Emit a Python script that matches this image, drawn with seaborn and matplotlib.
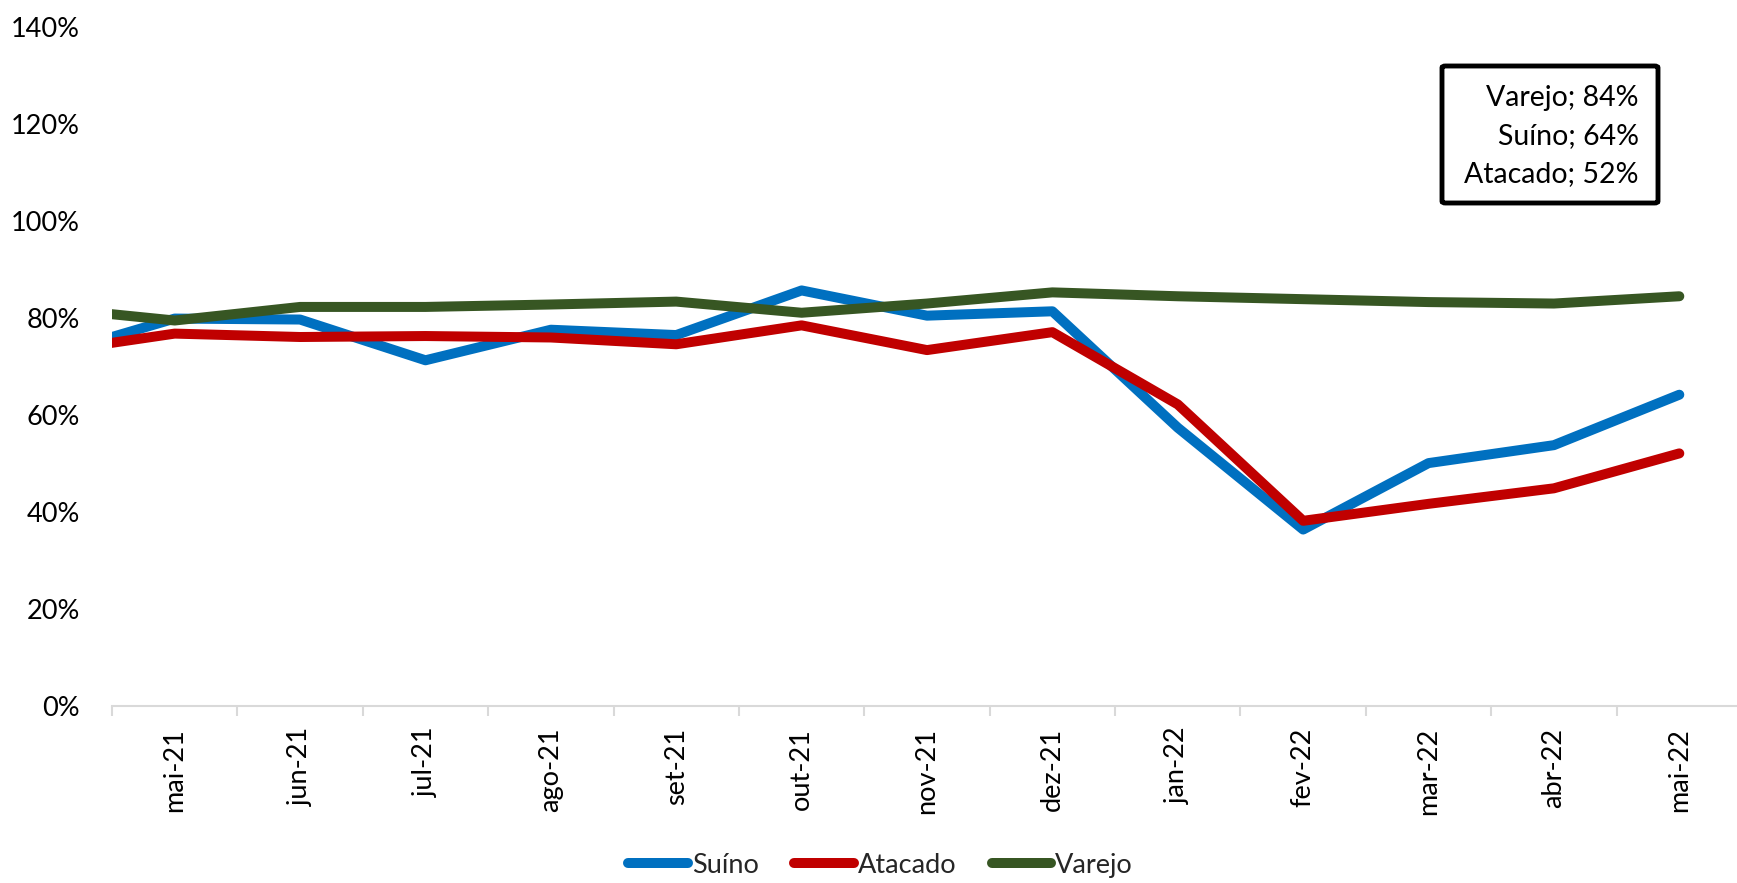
import matplotlib
matplotlib.use("Agg")
import matplotlib.pyplot as plt
import seaborn as sns
import pandas as pd
import numpy as np
from matplotlib.patches import FancyBboxPatch

months = ['abr-21', 'mai-21', 'jun-21', 'jul-21', 'ago-21', 'set-21', 'out-21',
          'nov-21', 'dez-21', 'jan-22', 'fev-22', 'mar-22', 'abr-22', 'mai-22']
suino = [72.2, 79.8, 79.6, 71.2, 77.5, 76.4, 85.6, 80.4, 81.3, 57.3, 36.3, 50.0, 53.7, 64.1]
atacado = [72.9, 76.7, 76.0, 76.2, 75.9, 74.5, 78.4, 73.3, 77.0, 62.1, 38.1, 41.6, 44.8, 52.0]
varejo = [82.0, 79.4, 82.2, 82.2, 82.7, 83.3, 81.0, 82.9, 85.2, 84.4, 83.8, 83.2, 82.9, 84.4]
series_names = ['Suíno', 'Atacado', 'Varejo']
colors = ['#0070C0', '#C00000', '#375623']
yticks = [0, 20, 40, 60, 80, 100, 120, 140]
box_lines = ['Varejo; 84%', 'Suíno; 64%', 'Atacado; 52%']

pos = np.arange(len(months)) - 1  # abr-21 sits before the visible range
df = pd.concat([
    pd.DataFrame({'x': pos, 'valor': vals, 'serie': name})
    for name, vals in zip(series_names, [suino, atacado, varejo])
])

sns.set_theme(style='white')
plt.rcParams['font.family'] = ['Lato', 'DejaVu Sans']
FS = 19.5

fig = plt.figure(figsize=(17.37, 8.83), dpi=100)
ax = fig.add_axes([112 / 1737, 1 - 705.6 / 883, 1630 / 1737, (705.6 - 26.6) / 883])

sns.lineplot(data=df, x='x', y='valor', hue='serie', hue_order=series_names,
             palette=colors, linewidth=7.2, ax=ax, legend=False,
             solid_capstyle='round', solid_joinstyle='round')

ax.set_xlim(-0.5, 12.5)
ax.set_ylim(0, 140)
ax.set_xlabel('')
ax.set_ylabel('')

for s in ['top', 'right', 'left']:
    ax.spines[s].set_visible(False)
ax.spines['bottom'].set_color('#D9D9D9')
ax.spines['bottom'].set_linewidth(1.5)

ax.set_yticks(yticks)
ax.set_yticklabels([f'{v}%' for v in yticks], fontsize=FS, color='black')
ax.tick_params(axis='y', length=0, pad=23)

ax.set_xticks(np.arange(0, 13))
ax.set_xticklabels(months[1:], rotation=90, fontsize=FS, color='black')
ax.set_xticks(np.arange(-0.5, 12.0, 1.0), minor=True)
ax.tick_params(axis='x', which='major', length=0, pad=16)
ax.tick_params(axis='x', which='minor', length=7, width=1.5, color='#D9D9D9',
               direction='out', bottom=True)
ax.grid(False)

# legend
handles = [plt.Line2D([0], [0], color=c, linewidth=7.2, solid_capstyle='round')
           for c in colors]
fig.legend(handles, series_names, loc='center', bbox_to_anchor=(0.507, 0.02),
           ncol=3, frameon=False, fontsize=FS, handlelength=2.2,
           handletextpad=0.15, columnspacing=1.3)

# annotation box
bx0, by0, bx1, by1 = 1442 / 1737, 1 - 203 / 883, 1658 / 1737, 1 - 66 / 883
box = FancyBboxPatch((bx0, by0), bx1 - bx0, by1 - by0,
                     boxstyle='round,pad=0,rounding_size=0.002',
                     transform=fig.transFigure, facecolor='white',
                     edgecolor='black', linewidth=3.5, zorder=5)
fig.patches.append(box)
for txt, yy in zip(box_lines, [98, 136, 174]):
    fig.text(1639 / 1737, 1 - yy / 883, txt, ha='right', va='center',
             fontsize=20.5, color='black', zorder=6)

fig.savefig('out.png', dpi=100)
